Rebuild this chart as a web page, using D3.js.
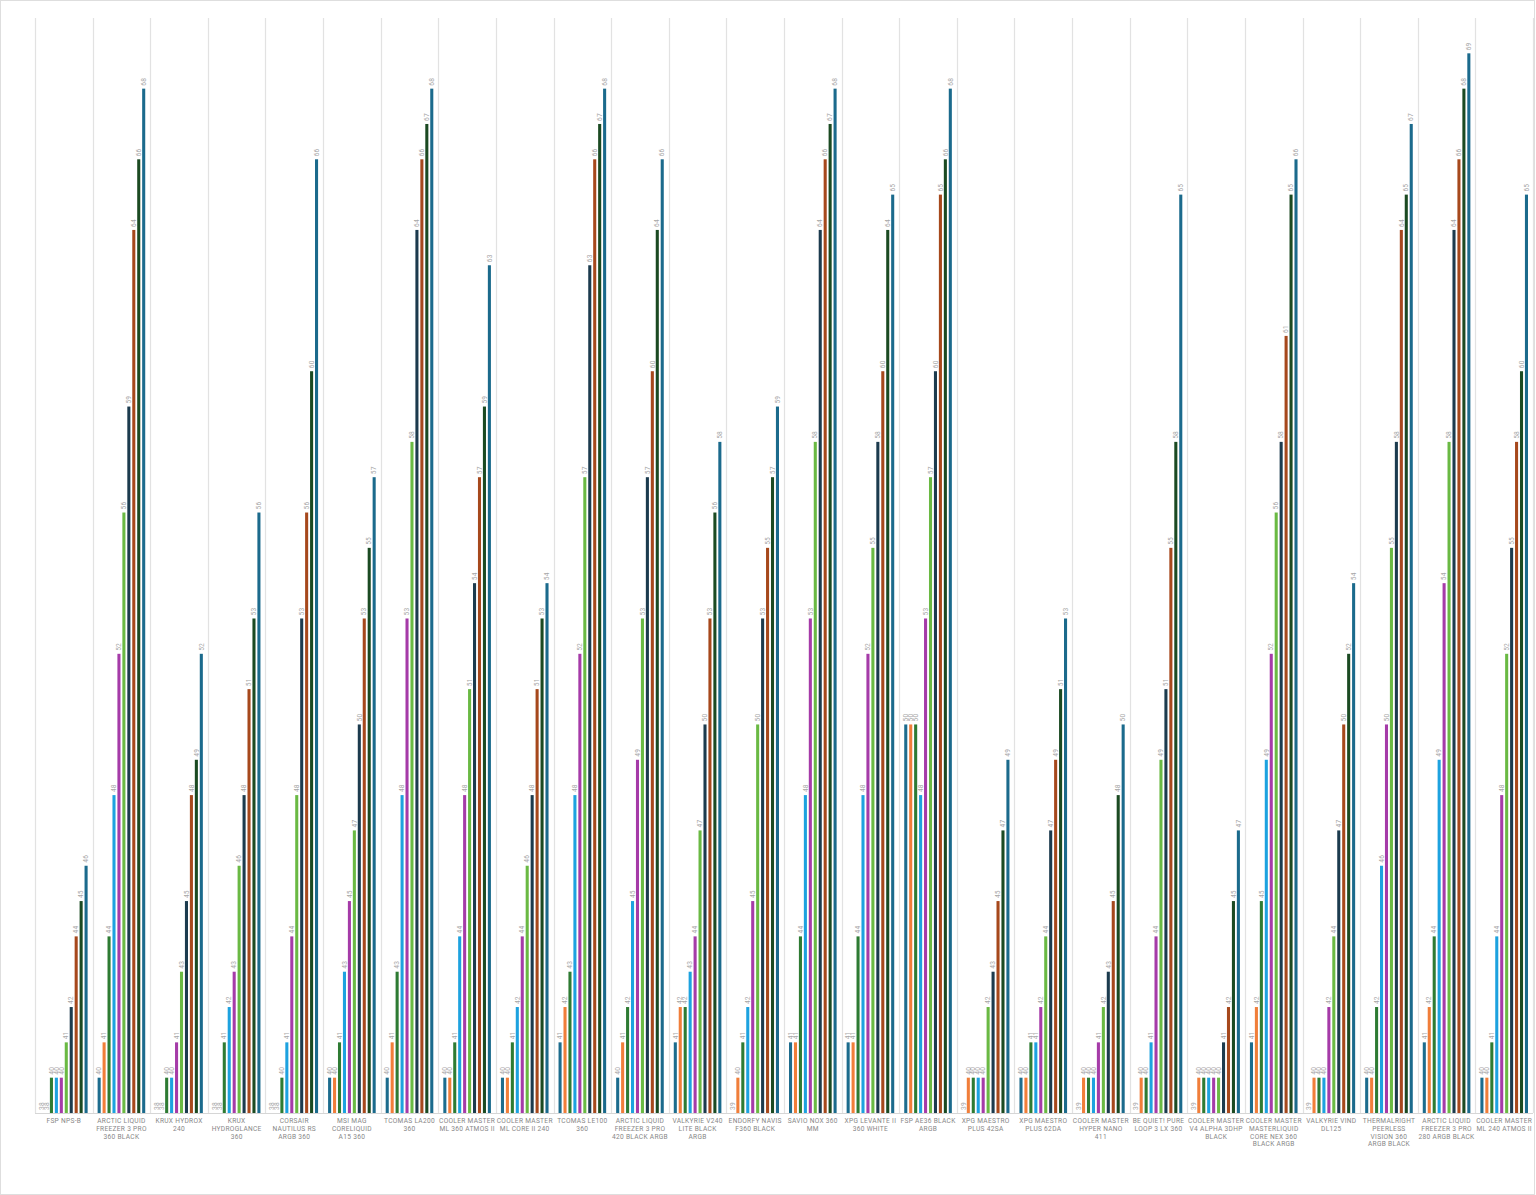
<!DOCTYPE html>
<html>
<head>
<meta charset="utf-8">
<script src="https://cdn.jsdelivr.net/npm/d3@7"></script>
<style>
  html, body { margin: 0; padding: 0; background: #ffffff; }
  svg { display: block; }
</style>
</head>
<body>
<svg id="chart" width="1536" height="1195"></svg>
<script>
const categories = [
  "FSP NPS-B",
  "ARCTIC LIQUID FREEZER 3 PRO 360 BLACK",
  "KRUX HYDROX 240",
  "KRUX HYDROGLANCE 360",
  "CORSAIR NAUTILUS RS ARGB 360",
  "MSI MAG CORELIQUID A15 360",
  "TCOMAS LA200 360",
  "COOLER MASTER ML 360 ATMOS II",
  "COOLER MASTER ML CORE II 240",
  "TCOMAS LE100 360",
  "ARCTIC LIQUID FREEZER 3 PRO 420 BLACK ARGB",
  "VALKYRIE V240 LITE BLACK ARGB",
  "ENDORFY NAVIS F360 BLACK",
  "SAVIO NOX 360 MM",
  "XPG LEVANTE II 360 WHITE",
  "FSP AE36 BLACK ARGB",
  "XPG MAESTRO PLUS 42SA",
  "XPG MAESTRO PLUS 62DA",
  "COOLER MASTER HYPER NANO 411",
  "BE QUIET! PURE LOOP 3 LX 360",
  "COOLER MASTER V4 ALPHA 3DHP BLACK",
  "COOLER MASTER MASTERLIQUID CORE NEX 360 BLACK ARGB",
  "VALKYRIE VIND DL125",
  "THERMALRIGHT PEERLESS VISION 360 ARGB BLACK",
  "ARCTIC LIQUID FREEZER 3 PRO 280 ARGB BLACK",
  "COOLER MASTER ML 240 ATMOS II"
];

// tick labels as they are wrapped under each group
const tickLabelLines = [
  ["FSP NPS-B"],
  ["ARCTIC LIQUID", "FREEZER 3 PRO", "360 BLACK"],
  ["KRUX HYDROX", "240"],
  ["KRUX", "HYDROGLANCE", "360"],
  ["CORSAIR", "NAUTILUS RS", "ARGB 360"],
  ["MSI MAG", "CORELIQUID", "A15 360"],
  ["TCOMAS LA200", "360"],
  ["COOLER MASTER", "ML 360 ATMOS II"],
  ["COOLER MASTER", "ML CORE II 240"],
  ["TCOMAS LE100", "360"],
  ["ARCTIC LIQUID", "FREEZER 3 PRO", "420 BLACK ARGB"],
  ["VALKYRIE V240", "LITE BLACK", "ARGB"],
  ["ENDORFY NAVIS", "F360 BLACK"],
  ["SAVIO NOX 360", "MM"],
  ["XPG LEVANTE II", "360 WHITE"],
  ["FSP AE36 BLACK", "ARGB"],
  ["XPG MAESTRO", "PLUS 42SA"],
  ["XPG MAESTRO", "PLUS 62DA"],
  ["COOLER MASTER", "HYPER NANO", "411"],
  ["BE QUIET! PURE", "LOOP 3 LX 360"],
  ["COOLER MASTER", "V4 ALPHA 3DHP", "BLACK"],
  ["COOLER MASTER", "MASTERLIQUID", "CORE NEX 360", "BLACK ARGB"],
  ["VALKYRIE VIND", "DL125"],
  ["THERMALRIGHT", "PEERLESS", "VISION 360", "ARGB BLACK"],
  ["ARCTIC LIQUID", "FREEZER 3 PRO", "280 ARGB BLACK"],
  ["COOLER MASTER", "ML 240 ATMOS II"]
];

const seriesNames = ["10%", "20%", "30%", "40%", "50%", "60%", "70%", "80%", "90%", "100%"];

const s10 = [38,40,38,38,38,40,40,40,40,41,40,41,39,41,41,50,39,40,39,39,39,41,39,40,41,40];
const s20 = [38,41,38,38,38,40,41,40,40,42,41,42,40,41,41,50,40,40,40,40,40,42,40,40,42,40];
const s30 = [40,44,40,41,40,41,43,41,41,43,42,42,41,44,44,50,40,41,40,40,40,45,40,42,44,41];
const s40 = [40,48,40,42,41,43,48,44,42,48,45,43,42,48,48,48,40,41,40,41,40,49,40,46,49,44];
const s50 = [40,52,41,43,44,45,53,48,44,52,49,44,45,53,52,53,40,42,41,44,40,52,42,50,54,48];
const s60 = [41,56,43,46,48,47,58,51,46,57,53,47,50,58,55,57,42,44,42,49,40,56,44,55,58,52];
const s70 = [42,59,45,48,53,50,64,54,48,63,57,50,53,64,58,60,43,47,43,51,41,58,47,58,64,55];
const s80 = [44,64,48,51,56,53,66,57,51,66,60,53,55,66,60,65,45,49,45,55,42,61,50,64,66,58];
const s90 = [45,66,49,53,60,55,67,59,53,67,64,56,57,67,64,66,47,51,48,58,45,65,52,65,68,60];
const s100 = [46,68,52,56,66,57,68,63,54,68,66,58,59,68,65,68,49,53,50,65,47,66,54,67,69,65];

const seriesValues = [s10, s20, s30, s40, s50, s60, s70, s80, s90, s100];

const seriesColors = ["#1d6c8d", "#f07e3a", "#2e7b33", "#1da2df", "#a53ba8",
                      "#6ab943", "#1c3b4e", "#a6481c", "#1b4a22", "#1b6a8c"];

const yDomain = [39, 70];

// ---------------- drawing ----------------
const svg = d3.select("#chart");
const W = 1536, H = 1195;
const plot = { left: 35, right: 1533, top: 18, bottom: 1113 };

svg.append("rect")
  .attr("x", 0.5).attr("y", 0.5)
  .attr("width", 1534).attr("height", H - 1)
  .attr("fill", "none").attr("stroke", "#dedede").attr("stroke-width", 1);

const x0 = d3.scaleBand()
  .domain(categories)
  .range([plot.left, plot.right])
  .paddingInner(0).paddingOuter(0);

const bw = x0.bandwidth();

const x1 = d3.scaleBand()
  .domain(seriesNames)
  .range([5, bw - 5])
  .paddingInner(0.38).paddingOuter(0);

const y = d3.scaleLinear().domain(yDomain).range([plot.bottom, plot.top]).clamp(true);

const bounds = categories.map(c => x0(c)).concat([plot.right]);
svg.append("g").selectAll("line")
  .data(bounds)
  .join("line")
  .attr("x1", d => Math.round(d) + 0.5).attr("x2", d => Math.round(d) + 0.5)
  .attr("y1", plot.top).attr("y2", plot.bottom)
  .attr("stroke", "#e2e2e2").attr("stroke-width", 1.2);

const rows = categories.map((c, ci) => ({
  category: c,
  values: seriesNames.map((s, si) => ({ series: s, si, value: seriesValues[si][ci] }))
}));

const groups = svg.append("g").selectAll("g")
  .data(rows)
  .join("g")
  .attr("transform", d => `translate(${x0(d.category)},0)`);

groups.selectAll("rect")
  .data(d => d.values)
  .join("rect")
  .attr("x", d => x1(d.series))
  .attr("width", x1.bandwidth())
  .attr("y", d => y(d.value))
  .attr("height", d => plot.bottom - y(d.value))
  .attr("fill", d => seriesColors[d.si]);

groups.selectAll("text.val")
  .data(d => d.values)
  .join("text")
  .attr("class", "val")
  .attr("transform", d => `translate(${x1(d.series) + x1.bandwidth() / 2 + 0.2},${y(d.value) - 3}) rotate(-90)`)
  .attr("text-anchor", "start")
  .attr("dominant-baseline", "central")
  .attr("font-family", "Roboto, 'Noto Sans', sans-serif")
  .attr("font-size", "6.6px")
  .attr("letter-spacing", "0.2px")
  .attr("fill", "#a6a6a6")
  .text(d => d.value);

svg.append("line")
  .attr("x1", plot.left).attr("x2", plot.right)
  .attr("y1", plot.bottom + 0.5).attr("y2", plot.bottom + 0.5)
  .attr("stroke", "#d6d6d6").attr("stroke-width", 1.2);

const xAxis = d3.axisBottom(x0).tickSize(0).tickPadding(0);
const axisG = svg.append("g")
  .attr("transform", `translate(0,${plot.bottom})`)
  .call(xAxis);
axisG.select(".domain").remove();

const lineH = 7.7;
axisG.selectAll(".tick text")
  .attr("font-family", "Roboto, 'Noto Sans', sans-serif")
  .attr("font-size", "6.6px")
  .attr("letter-spacing", "0.3px")
  .attr("fill", "#878787")
  .attr("text-anchor", "middle")
  .each(function(d) {
    const t = d3.select(this);
    const lines = tickLabelLines[categories.indexOf(d)];
    t.text(null);
    lines.forEach((ln, i) => {
      t.append("tspan")
        .attr("x", 0)
        .attr("y", 10.3 + i * lineH)
        .attr("dy", 0)
        .text(ln);
    });
  });
</script>
</body>
</html>
